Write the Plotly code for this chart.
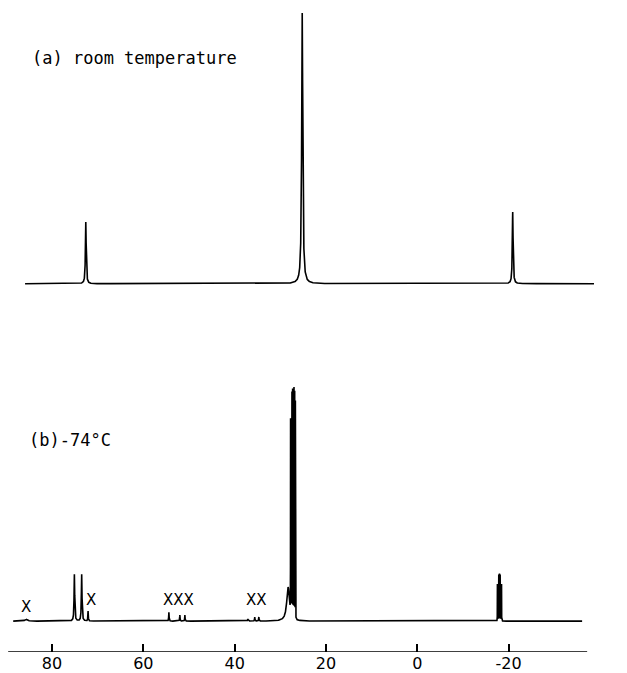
import numpy as np
import plotly.graph_objects as go

# ---- data (ppm, heights in recorder units) ----
# spectrum (a): room temperature
a_pos = [72.6, 25.2, -20.9]
a_hgt = [62, 272, 72]
a_hw = [0.10, 0.14, 0.10]
a_base = 370
a_span = [85.9, -38.7]

# spectrum (b): -74 °C
b_pos = [85.7, 75.1, 73.5, 72.1, 54.4, 52.0, 50.9, 37.1, 35.6, 34.7,
         28.3,
         27.75, 27.6, 27.45, 27.3, 27.15, 27.0, 26.85, 26.7,
         -17.55, -17.7, -17.85, -18.0, -18.15, -18.3, -18.45]
b_hgt = [2, 47, 47, 10, 9, 6, 6, 2, 4, 4,
         34,
         192, 214, 222, 226, 228, 229, 226, 218,
         37, 43, 46, 47, 46, 43, 37]
b_hw = [0.3, 0.08, 0.08, 0.05, 0.05, 0.05, 0.05, 0.1, 0.05, 0.05,
        0.35,
        0.012, 0.012, 0.012, 0.012, 0.012, 0.012, 0.012, 0.012,
        0.012, 0.012, 0.012, 0.012, 0.012, 0.012, 0.012]
b_base = 31
b_span = [88.5, -36.1]

tick_vals = [80, 60, 40, 20, 0, -20]
tick_text = ["80", "60", "40", "20", "0", "-20"]
axis_span = [89.6, -37.2]

x_range = [91.39, -45.93]


def spectrum(span, pos, hgt, hw, base, step):
    x = np.arange(span[0], span[1], -step)
    y = np.full_like(x, float(base))
    for p, h, w in zip(pos, hgt, hw):
        y += h * w * w / ((x - p) ** 2 + w * w)
    return np.round(x, 4), np.round(y, 2)


xa, ya = spectrum(a_span, a_pos, a_hgt, a_hw, a_base, 0.005)
xb, yb = spectrum(b_span, b_pos, b_hgt, b_hw, b_base, 0.002)

fig = go.Figure()
fig.add_trace(go.Scatter(x=xa, y=ya, mode="lines",
                         line=dict(color="black", width=1.6), showlegend=False,
                         hoverinfo="skip"))
fig.add_trace(go.Scatter(x=xb, y=yb, mode="lines",
                         line=dict(color="black", width=1.6), showlegend=False,
                         hoverinfo="skip"))

# axis line spanning the scale only
fig.add_shape(type="line", x0=axis_span[0], x1=axis_span[1], y0=0, y1=0,
              xref="x", yref="y", line=dict(color="black", width=1.6))

font = "DejaVu Sans"
mono = "DejaVu Sans Mono"
ann = [
    dict(text="(a) room temperature", x=84.8, y=597, xanchor="left", size=17, fam=mono),
    dict(text="(b)-74°C", x=85.5, y=213, xanchor="left", size=17, fam=mono),
    dict(text="X", x=85.7, y=45, xanchor="center", size=15, fam=font),
    dict(text="X", x=71.5, y=52, xanchor="center", size=15, fam=font),
    dict(text="XXX", x=52.2, y=52, xanchor="center", size=15, fam=font),
    dict(text="XX", x=35.3, y=52, xanchor="center", size=15, fam=font),
    dict(text="δ(<sup>31</sup>P)", x=-39.3, y=-10, xanchor="center", size=16, fam=font),
]
for a in ann:
    fig.add_annotation(text=a["text"], x=a["x"], y=a["y"], xref="x", yref="y",
                       xanchor=a["xanchor"], yanchor="middle", showarrow=False,
                       font=dict(family=a["fam"], size=a["size"], color="black"))

fig.update_layout(
    width=627, height=673,
    margin=dict(l=0, r=0, t=0, b=18),
    paper_bgcolor="white", plot_bgcolor="white",
    xaxis=dict(range=x_range, autorange=False, showgrid=False, zeroline=False,
               showline=False, tickmode="array", tickvals=tick_vals,
               ticktext=tick_text, ticks="inside", ticklen=8, tickwidth=1.6,
               tickcolor="black",
               tickfont=dict(family=font, size=16, color="black")),
    yaxis=dict(range=[0, 655], autorange=False, visible=False),
)

fig.write_html("out.html",
               config={"displayModeBar": False},
               post_script="document.body.style.margin='0';"
                           "document.body.style.overflow='hidden';")
